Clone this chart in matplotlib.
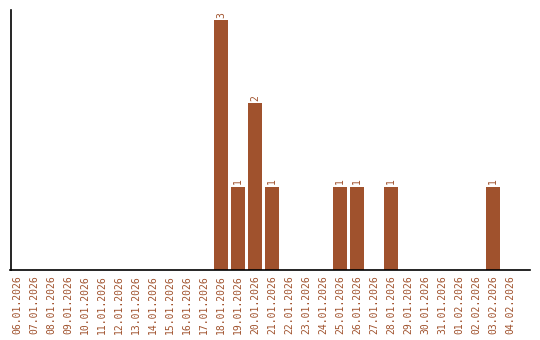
import matplotlib
matplotlib.use('Agg')
import matplotlib.pyplot as plt

# daily counts, 06.01.2026 - 04.02.2026
dates = ['06.01.2026', '07.01.2026', '08.01.2026', '09.01.2026', '10.01.2026',
         '11.01.2026', '12.01.2026', '13.01.2026', '14.01.2026', '15.01.2026',
         '16.01.2026', '17.01.2026', '18.01.2026', '19.01.2026', '20.01.2026',
         '21.01.2026', '22.01.2026', '23.01.2026', '24.01.2026', '25.01.2026',
         '26.01.2026', '27.01.2026', '28.01.2026', '29.01.2026', '30.01.2026',
         '31.01.2026', '01.02.2026', '02.02.2026', '03.02.2026', '04.02.2026']
counts = [0, 0, 0, 0, 0, 0, 0, 0, 0, 0, 0, 0, 3, 1, 2, 1, 0, 0, 0, 1,
          1, 0, 1, 0, 0, 0, 0, 0, 1, 0]

color = '#A0522D'
font = 'DejaVu Sans Mono'

fig = plt.figure(figsize=(5.4, 3.4), dpi=100)
ax = fig.add_axes([10.5 / 540, 70 / 340, 519.5 / 540, 260 / 340])

x = list(range(len(dates)))
bars = ax.bar(x, counts, width=0.82, color=color)

# value labels on top of non-empty bars
for xi, c in zip(x, counts):
    if c > 0:
        ax.text(xi, c + 0.03, str(c), rotation=90, ha='center', va='bottom',
                color=color, fontsize=7, family=font)

ax.set_xlim(-0.38, 30.18)
ax.set_ylim(0, 3.12)
ax.set_xticks(x)
ax.set_xticklabels(dates, rotation=90, color=color, fontsize=7, family=font)
ax.tick_params(axis='x', length=0, pad=4)
ax.set_yticks([])

for side in ['top', 'right']:
    ax.spines[side].set_visible(False)
ax.spines['left'].set_linewidth(1.2)
ax.spines['bottom'].set_linewidth(1.2)

plt.savefig('out.png', dpi=100)
plt.close(fig)
